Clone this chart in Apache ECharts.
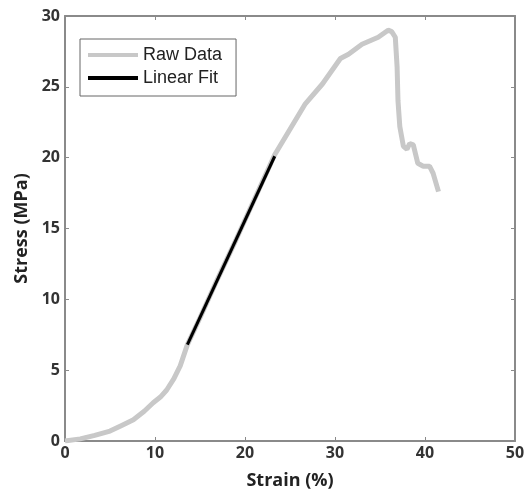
<!DOCTYPE html>
<html><head><meta charset="utf-8">
<script src="https://cdn.jsdelivr.net/npm/echarts@6/dist/echarts.min.js"></script>
<style>html,body{margin:0;padding:0;background:#fff}#c{width:526px;height:493px}</style>
</head><body><div id="c"></div>
<script>
const rawStrain = [0,1.7,3.3,5.0,6.3,7.6,8.8,9.8,10.6,11.3,12.1,12.8,13.6,15.0,17.0,19.0,21.0,23.3,24.9,26.7,28.6,30.6,31.5,33.0,34.8,35.9,36.3,36.7,36.9,37.0,37.2,37.6,38.0,38.3,38.7,39.2,39.8,40.5,40.9,41.5];
const rawStress = [0,0.15,0.4,0.7,1.1,1.5,2.1,2.7,3.1,3.6,4.4,5.3,6.8,8.7,11.5,14.2,17.0,20.2,21.9,23.8,25.2,27.0,27.3,28.0,28.5,29.0,28.9,28.5,26.4,24.0,22.2,20.8,20.6,21.0,20.9,19.6,19.4,19.4,18.9,17.6];
const fitStrain = [13.6,23.3];
const fitStress = [6.8,20.1];
const xTicks = [0,10,20,30,40,50];
const yTicks = [0,5,10,15,20,25,30];

const zip = (a,b)=>a.map((v,i)=>[v,b[i]]);
const font = '"Liberation Sans", Arial, sans-serif';
const bfont = '"Open Sans", "Liberation Sans", sans-serif';
const axisCol = '#8a8a8a';
const common = {
  axisLine:{show:true,onZero:false,lineStyle:{color:axisCol,width:2}},
  axisTick:{inside:true,length:4,lineStyle:{color:axisCol,width:1}},
  splitLine:{show:false}
};
const chart = echarts.init(document.getElementById('c'));
chart.setOption({
  animation:false,
  backgroundColor:'#fff',
  grid:{left:65,right:11,top:16,bottom:52,containLabel:false,outerBoundsMode:'none'},
  legend:{
    orient:'vertical', left:80, top:39,
    borderColor:'#666', borderWidth:1, padding:[7,14,9,8],
    itemWidth:50, itemHeight:4, itemGap:5,
    textStyle:{fontFamily:font,fontSize:18,color:'#222'},
    data:[{name:'Raw Data',icon:'rect'},{name:'Linear Fit',icon:'rect'}]
  },
  xAxis:[Object.assign({
    type:'value',min:0,max:50,interval:10,
    name:'Strain (%)',nameLocation:'middle',nameGap:31,
    nameTextStyle:{fontFamily:bfont,fontSize:18,fontWeight:'bold',color:'#222'},
    axisLabel:{fontFamily:bfont,fontSize:16,fontWeight:'bold',color:'#333',margin:4,
      formatter:v=>xTicks.includes(v)?String(v):''}
  },common),Object.assign({
    type:'value',min:0,max:50,interval:10,position:'top',
    axisLabel:{show:false}
  },common)],
  yAxis:[Object.assign({
    type:'value',min:0,max:30,interval:5,
    name:'Stress (MPa)',nameLocation:'middle',nameGap:34,
    nameTextStyle:{fontFamily:bfont,fontSize:18,fontWeight:'bold',color:'#222'},
    axisLabel:{fontFamily:bfont,fontSize:16,fontWeight:'bold',color:'#333',margin:5,
      formatter:v=>yTicks.includes(v)?String(v):''}
  },common),Object.assign({
    type:'value',min:0,max:30,interval:5,position:'right',
    axisLabel:{show:false}
  },common)],
  series:[{
    name:'Raw Data',type:'line',symbol:'none',
    data:zip(rawStrain,rawStress),
    lineStyle:{color:'#c8c8c8',width:5},itemStyle:{color:'#c8c8c8'}
  },{
    name:'Linear Fit',type:'line',symbol:'none',
    data:zip(fitStrain,fitStress),
    lineStyle:{color:'#000',width:3},itemStyle:{color:'#000'}
  }]
});
</script></body></html>
